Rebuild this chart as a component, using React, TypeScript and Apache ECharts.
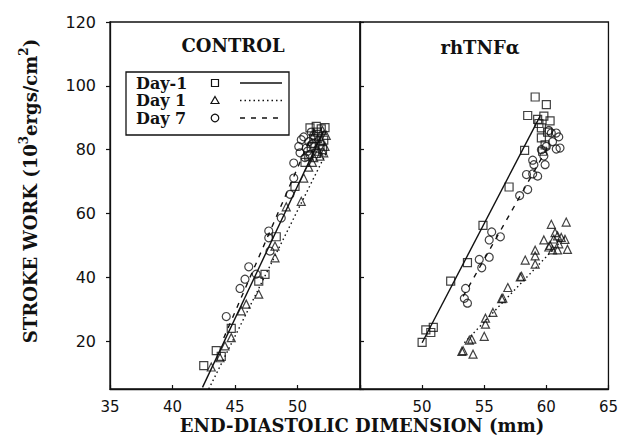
import React, { useEffect, useRef } from "react";
import * as echarts from "echarts";

// ---- tick labels ----
const controlXTicks = [35, 40, 45, 50];
const tnfXTicks = [50, 55, 60, 65];
const yTicks = [20, 40, 60, 80, 100, 120];

// ---- CONTROL panel data [EDD mm, stroke work] ----
const controlDayMinus1 = [
  [42.5, 12.3], [43.5, 17.0], [43.9, 15.2], [44.7, 24.0], [46.9, 38.8], [47.4, 40.9],
  [48.3, 52.7], [49.8, 68.5], [50.6, 76.0], [51.0, 86.8], [51.5, 87.3], [51.9, 86.5],
  [52.2, 86.9], [51.3, 83.5], [51.7, 84.2], [51.1, 80.8], [51.8, 81.5], [51.5, 78.8],
  [52.1, 83.0], [50.9, 78.0], [51.6, 85.5], [51.4, 82.0], [52.0, 80.0],
];
const controlDay1 = [
  [43.1, 11.9], [43.8, 14.8], [44.2, 18.5], [44.7, 21.1], [45.5, 29.5], [45.9, 31.6],
  [46.9, 34.7], [48.2, 46.1], [48.2, 49.8], [49.1, 62.1], [50.3, 63.8], [50.5, 71.1],
  [50.9, 74.5], [51.3, 77.5], [51.7, 79.5], [52.2, 81.0], [51.9, 82.8], [52.3, 84.5],
  [51.5, 80.5], [52.0, 86.0], [51.2, 76.0], [51.8, 78.0], [51.6, 83.5], [52.1, 79.0],
];
const controlDay7 = [
  [44.3, 27.7], [45.4, 36.5], [45.8, 39.4], [46.1, 43.3], [46.7, 41.0], [47.7, 52.4],
  [47.7, 54.5], [47.8, 48.2], [48.7, 58.6], [49.4, 66.0], [49.7, 71.1], [49.7, 75.8],
  [50.1, 81.0], [50.3, 83.1], [50.5, 84.0], [50.2, 79.0], [50.7, 80.5], [50.9, 82.5],
  [51.0, 78.5], [51.3, 84.5], [50.6, 77.5], [51.2, 81.8], [51.1, 85.5], [50.8, 79.5],
];
const controlFitDayMinus1 = [[42.4, 5.5], [52.1, 86.0]];
const controlFitDay1 = [[42.9, 5.0], [52.3, 79.0]];
const controlFitDay7 = [[44.1, 21.0], [51.3, 86.0]];

// ---- rhTNFα panel data ----
const tnfDayMinus1 = [
  [50.0, 19.6], [50.3, 23.5], [50.7, 22.7], [50.9, 24.3], [52.3, 38.8], [53.65, 44.6],
  [54.9, 56.3], [57.0, 68.3], [58.25, 79.8], [58.5, 90.7], [59.1, 96.5], [60.0, 94.1],
  [59.3, 89.5], [59.8, 90.5], [60.3, 89.0], [59.6, 86.8], [59.6, 83.7], [59.9, 81.5],
  [59.4, 88.2], [60.1, 85.5], [59.7, 79.5],
];
const tnfDay1 = [
  [53.2, 16.8], [53.3, 17.0], [54.1, 15.9], [54.0, 20.6], [53.8, 20.3], [55.0, 21.5],
  [55.1, 25.3], [55.1, 27.2], [55.7, 29.0], [56.4, 33.3], [56.5, 33.5], [56.9, 36.8],
  [57.9, 40.1], [58.0, 40.3], [58.3, 45.4], [59.1, 44.1], [59.1, 46.7], [59.1, 48.5],
  [59.8, 51.7], [60.4, 56.6], [61.6, 57.3], [60.3, 50.0], [60.6, 52.0], [60.9, 53.0],
  [61.0, 50.5], [61.5, 51.9], [61.7, 48.75], [60.5, 48.6], [60.9, 48.6], [60.7, 54.0],
  [60.2, 49.5], [61.2, 52.5],
];
const tnfDay7 = [
  [53.65, 31.9], [53.4, 33.4], [53.5, 36.5], [54.8, 43.0], [54.6, 45.6], [55.4, 46.3],
  [55.4, 51.7], [55.6, 54.2], [56.3, 52.7], [57.85, 65.6], [58.5, 67.5], [58.4, 72.2],
  [58.9, 72.4], [59.3, 71.7], [58.9, 76.7], [59.0, 75.3], [59.9, 75.3], [59.6, 80.0],
  [60.4, 85.2], [60.8, 85.2], [60.8, 80.2], [60.0, 81.0], [60.5, 82.5], [61.0, 84.0],
  [60.2, 86.0], [61.1, 80.5], [59.8, 78.0],
];
const tnfFitDayMinus1 = [[50.0, 19.5], [59.5, 90.5]];
const tnfFitDay1 = [[53.4, 19.5], [61.6, 53.0]];
const tnfFitDay7 = [[53.3, 34.0], [60.3, 82.0]];

const legendLabels = ["Day-1", "Day 1", "Day 7"];

const INK = "#111";
const SERIF = "DejaVu Serif";
const DOTTED = [1.5, 3];
const DASHED = [5, 6];

function scatter(data: number[][], symbol: string, size: number, idx: number) {
  return {
    type: "scatter",
    xAxisIndex: idx,
    yAxisIndex: idx,
    data,
    symbol,
    symbolSize: size,
    itemStyle: { color: "rgba(0,0,0,0)", borderColor: INK, borderWidth: 1.2 },
    silent: true,
  };
}
function fit(data: number[][], type: any, idx: number) {
  return {
    type: "line",
    xAxisIndex: idx,
    yAxisIndex: idx,
    data,
    showSymbol: false,
    symbol: "none",
    lineStyle: { color: INK, width: 1.4, type },
    silent: true,
  };
}

function xAxis(grid: number, min: number, max: number, labels: number[]) {
  return {
    type: "value",
    gridIndex: grid,
    min,
    max,
    interval: 5,
    splitLine: { show: false },
    axisLine: { show: true, lineStyle: { color: INK, width: 1.3 } },
    axisTick: { show: true, inside: true, length: 4, lineStyle: { color: INK, width: 1.2 } },
    axisLabel: {
      fontFamily: "DejaVu Sans",
      fontSize: 15,
      lineHeight: 15,
      color: INK,
      margin: 10,
      formatter: (v: number) => (labels.includes(v) ? String(v) : ""),
    },
  };
}
function yAxis(grid: number, showLabels: boolean) {
  return {
    type: "value",
    gridIndex: grid,
    min: 5,
    max: 120,
    minInterval: 20,
    maxInterval: 20,
    splitLine: { show: false },
    axisLine: { show: true, lineStyle: { color: INK, width: 1.3 } },
    axisTick: { show: true, inside: !showLabels, length: 4, lineStyle: { color: INK, width: 1.2 } },
    axisLabel: {
      show: showLabels,
      showMinLabel: false,
      fontFamily: "DejaVu Sans",
      fontSize: 16,
      color: INK,
      margin: 14,
      formatter: (v: number) => (yTicks.includes(v) ? String(v) : ""),
    },
  };
}

export default function App() {
  const ref = useRef<HTMLDivElement>(null);
  useEffect(() => {
    if (!ref.current) return;
    const chart = echarts.init(ref.current, null, { renderer: "svg" });
    const legX = 126, legY = 72, legW = 163, legH = 63;
    const rowY = [83, 100.5, 118];
    const legendGraphics: any[] = [
      { type: "rect", shape: { x: legX, y: legY, width: legW, height: legH }, style: { fill: "none", stroke: INK, lineWidth: 1.3 } },
    ];
    legendLabels.forEach((t, i) => {
      legendGraphics.push({
        type: "text", x: 136, y: rowY[i],
        style: { text: t, fontFamily: SERIF, fontWeight: "bold", fontSize: 16, fill: INK, verticalAlign: "middle", align: "left" },
      });
      const dash = i === 0 ? null : i === 1 ? DOTTED : DASHED;
      legendGraphics.push({
        type: "line", shape: { x1: 240, y1: rowY[i], x2: 282, y2: rowY[i] },
        style: { stroke: INK, lineWidth: 1.4, lineDash: dash },
      });
    });
    legendGraphics.push({ type: "rect", shape: { x: 211.5, y: rowY[0] - 3.5, width: 7, height: 7 }, style: { fill: "none", stroke: INK, lineWidth: 1.2 } });
    legendGraphics.push({ type: "polygon", shape: { points: [[215, rowY[1] - 4], [219, rowY[1] + 3], [211, rowY[1] + 3]] }, style: { fill: "none", stroke: INK, lineWidth: 1.2 } });
    legendGraphics.push({ type: "circle", shape: { cx: 215, cy: rowY[2], r: 3.8 }, style: { fill: "none", stroke: INK, lineWidth: 1.2 } });

    const titleStyle = { fontFamily: SERIF, fontWeight: "bold", fontSize: 18, fill: INK, align: "center", verticalAlign: "middle" };

    chart.setOption({
      animation: false,
      backgroundColor: "#fff",
      grid: [
        { left: 110, top: 22, width: 250, height: 367, show: true, borderColor: INK, borderWidth: 1.3 },
        { left: 360, top: 22, width: 249, height: 367, show: true, borderColor: INK, borderWidth: 1.3 },
      ],
      xAxis: [xAxis(0, 35, 55, controlXTicks), xAxis(1, 45, 65, tnfXTicks)],
      yAxis: [yAxis(0, true), yAxis(1, false)],
      series: [
        scatter(controlDayMinus1, "rect", 8, 0),
        scatter(controlDay1, "triangle", 8, 0),
        scatter(controlDay7, "circle", 8, 0),
        fit(controlFitDayMinus1, "solid", 0),
        fit(controlFitDay1, DOTTED, 0),
        fit(controlFitDay7, DASHED, 0),
        scatter(tnfDayMinus1, "rect", 8, 1),
        scatter(tnfDay1, "triangle", 8, 1),
        scatter(tnfDay7, "circle", 8, 1),
        fit(tnfFitDayMinus1, "solid", 1),
        fit(tnfFitDay1, DOTTED, 1),
        fit(tnfFitDay7, DASHED, 1),
      ],
      graphic: [
        { type: "text", x: 233, y: 45, style: { ...titleStyle, text: "CONTROL" } },
        { type: "text", x: 480, y: 47, style: { ...titleStyle, text: "rhTNFα" } },
        { type: "text", x: 362, y: 425, style: { ...titleStyle, fontSize: 18, text: "END-DIASTOLIC DIMENSION (mm)" } },
        {
          type: "text", x: 30, y: 191, rotation: Math.PI / 2,
          style: {
            text: "{a|STROKE WORK (10}{s|3}{a|ergs/cm}{s|2}{a|)}",
            align: "center",
            verticalAlign: "middle",
            fill: INK,
            rich: {
              a: { fontFamily: SERIF, fontWeight: "bold", fontSize: 18, lineHeight: 24, color: INK },
              s: { fontFamily: SERIF, fontWeight: "bold", fontSize: 12, lineHeight: 12, verticalAlign: "top", color: INK },
            },
          },
        },
        ...legendGraphics,
      ],
    });
    return () => chart.dispose();
  }, []);
  return <div ref={ref} style={{ position: "absolute", left: 0, top: 0, width: 621, height: 447 }} />;
}
